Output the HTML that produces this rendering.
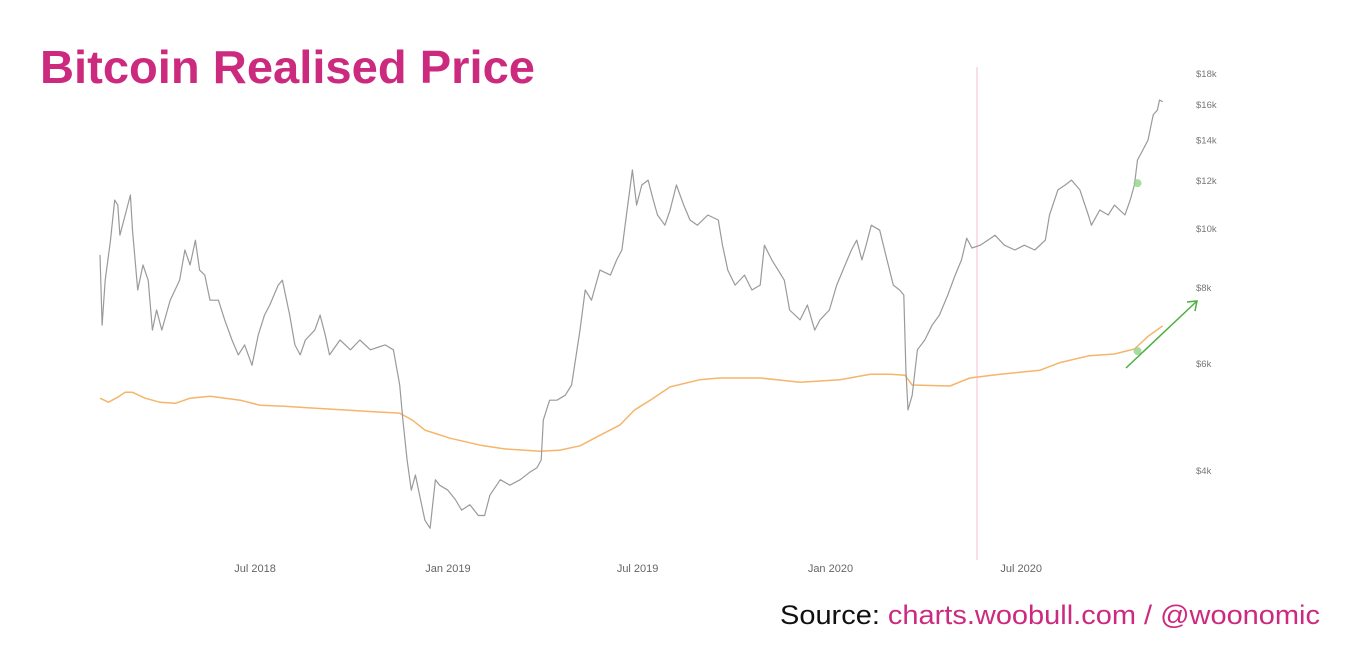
<!DOCTYPE html>
<html><head><meta charset="utf-8"><style>
html,body{margin:0;padding:0;background:#fff;}
svg{display:block;}
</style></head><body>
<svg id="chart" width="1366" height="650" viewBox="0 0 1366 650" xmlns="http://www.w3.org/2000/svg">
  <text x="40" y="83" font-family="Liberation Sans, sans-serif" font-weight="bold" font-size="46" fill="#cc2a7e" textLength="495" lengthAdjust="spacingAndGlyphs">Bitcoin Realised Price</text>
  <line x1="977" y1="67" x2="977" y2="560" stroke="#f6d6dc" stroke-width="1.5"/>
  <g id="yaxis"></g>
  <g id="xaxis"></g>
  <g id="series"></g>
  <text x="780" y="624" font-family="Liberation Sans, sans-serif" font-size="27" textLength="540" lengthAdjust="spacingAndGlyphs"><tspan fill="#111">Source: </tspan><tspan fill="#cc2a7e">charts.woobull.com / @woonomic</tspan></text>
</svg>
<script>
// Days since 2018-02-03
const priceDays = [0,2,5,10,14,17,19,24,29,31,36,41,46,50,54,59,67,76,81,86,91,95,100,105,113,119,126,132,138,145,151,157,162,170,174,181,186,191,196,205,210,215,219,229,239,248,258,272,280,286,289,293,297,301,305,310,315,320,324,332,339,345,353,361,367,372,382,391,401,410,417,421,423,429,436,444,450,458,463,469,477,487,493,498,503,508,512,517,523,528,532,539,544,550,557,563,570,580,590,594,599,606,615,622,630,634,641,647,653,658,668,675,682,687,696,703,711,717,722,727,731,736,744,751,757,763,767,769,771,775,780,787,794,801,809,816,822,827,832,840,847,854,863,873,882,892,902,906,914,921,927,935,943,946,954,962,968,978,983,987,990,995,1000,1005,1009,1011,1014];
const priceValues = [9070,6950,8240,9590,11160,10950,9770,10550,11380,9960,7940,8730,8240,6820,7360,6820,7640,8240,9240,8730,9590,8560,8400,7640,7640,7090,6570,6210,6450,5970,6690,7220,7500,8090,8240,7220,6450,6210,6570,6820,7220,6690,6210,6570,6330,6570,6330,6450,6330,5540,4850,4170,3720,3940,3650,3320,3220,3870,3790,3720,3590,3450,3520,3380,3380,3650,3870,3790,3870,3980,4050,4170,4850,5230,5230,5330,5540,6820,7940,7640,8560,8400,8900,9240,10750,12510,10950,11820,12040,11160,10550,10150,10750,11820,10950,10350,10150,10550,10350,9410,8560,8090,8400,7940,8090,9410,8900,8560,8240,7360,7090,7500,6820,7090,7360,8090,8730,9240,9590,8900,9410,10150,9960,8900,8090,7940,7790,5860,5040,5330,6330,6570,6950,7220,7790,8400,8900,9660,9310,9410,9590,9770,9410,9240,9410,9240,9590,10550,11600,11820,12040,11600,10550,10150,10750,10550,10950,10550,11160,11820,12990,13490,14010,15410,15700,16310,16200];
const realisedDays = [0,8,17,24,31,43,57,72,86,105,134,153,176,200,234,267,286,298,310,334,363,386,420,439,458,477,496,510,525,544,572,591,630,668,706,735,754,768,775,811,830,859,897,916,944,968,987,1000,1014];
const realisedValues = [5270,5190,5290,5390,5390,5270,5190,5170,5270,5310,5230,5130,5110,5080,5040,5000,4980,4850,4670,4530,4410,4350,4310,4330,4400,4580,4760,5040,5230,5500,5650,5690,5690,5600,5650,5770,5770,5750,5540,5520,5690,5770,5860,6030,6190,6230,6350,6660,6930];
const yTicks = [4000,6000,8000,10000,12000,14000,16000,18000];
const yTickLabels = ["$4k","$6k","$8k","$10k","$12k","$14k","$16k","$18k"];
const xTickDays = [148,332,513,697,879];
const xTickLabels = ["Jul 2018","Jan 2019","Jul 2019","Jan 2020","Jul 2020"];
const markerDay = 990;
const markerPrice = 11900;
const markerRealised = 6300;

const NS = "http://www.w3.org/2000/svg";
function xScale(d){ return 100 + d*1.048; }
function yScale(v){ return 471 - 264*Math.log(v/4000); }
function mk(tag, attrs, parent){ const e=document.createElementNS(NS,tag); for(const k in attrs) e.setAttribute(k,attrs[k]); parent.appendChild(e); return e; }

const yaxis=document.getElementById('yaxis');
yTicks.forEach((t,i)=>{
  const tx=mk('text',{x:1196,y:yScale(t)+3,'font-family':'Liberation Sans, sans-serif','font-size':'9.5',fill:'#777'},yaxis);
  
  
  tx.textContent=yTickLabels[i];
});
const xaxis=document.getElementById('xaxis');
xTickDays.forEach((d,i)=>{
  const tx=mk('text',{x:xScale(d),y:572,'text-anchor':'middle','font-family':'Liberation Sans, sans-serif','font-size':'11',fill:'#666'},xaxis);
  
  
  tx.textContent=xTickLabels[i];
});
const series=document.getElementById('series');
function linePath(days, vals){ return days.map((d,i)=>(i?'L':'M')+xScale(d).toFixed(1)+','+yScale(vals[i]).toFixed(1)).join(' '); }
const rp=mk('path',{d:linePath(realisedDays,realisedValues),fill:'none',stroke:'#f5b56a','stroke-width':'1.5','stroke-linejoin':'round'},series);


const pp=mk('path',{d:linePath(priceDays,priceValues),fill:'none',stroke:'#9a9a9a','stroke-width':'1.2','stroke-linejoin':'round'},series);


const m1=mk('circle',{cx:xScale(markerDay),cy:yScale(markerPrice),r:4,fill:'#8fd38a','fill-opacity':'0.8'},series);


const m2=mk('circle',{cx:xScale(markerDay),cy:yScale(markerRealised),r:4,fill:'#8fd38a','fill-opacity':'0.8'},series);


const ar=mk('g',{stroke:'#4caf3e','stroke-width':'1.5',fill:'none'},series);


mk('line',{x1:1126,y1:368,x2:1197,y2:301},ar);
mk('path',{d:'M1187,302 L1197,301 L1195,311'},ar);
</script>
</body></html>
